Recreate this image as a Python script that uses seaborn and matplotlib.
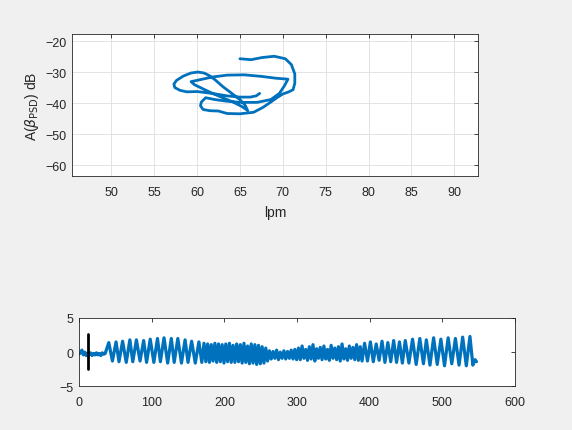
import numpy as np
import pandas as pd
import matplotlib
matplotlib.use("Agg")
import matplotlib.pyplot as plt
import seaborn as sns

# ---------------- data ----------------
# top panel: trajectory (lpm, dB)
lpm = [67.3, 66.9, 66.2, 65.0, 63.5, 62.2, 61.2, 60.0, 58.8, 58.0,
       57.4, 57.3, 57.6, 58.4, 59.3, 60.1, 60.8, 61.4,
       62.1, 63.0, 64.0, 65.0, 65.6, 65.9,
       65.2, 64.2, 63.0, 61.8, 60.6, 59.7, 59.3,
       60.3, 61.8, 63.5, 65.5, 67.5, 69.2, 70.6,
       70.2, 69.6, 68.6, 67.0, 65.0, 63.4, 62.1, 61.0,
       60.5, 60.4, 60.7, 61.5, 62.5,
       63.5, 65.0, 66.6, 67.7, 68.6, 69.3, 70.0, 70.7, 71.2,
       71.4, 71.4, 71.0, 70.3, 69.0, 67.6, 66.3, 65.0]
db = [-36.8, -37.6, -38.0, -38.0, -37.6, -37.0, -36.6, -36.2, -36.3, -35.8,
      -34.9, -33.8, -32.6, -31.2, -30.2, -29.9, -30.2, -31.0,
      -32.4, -34.6, -36.7, -38.8, -40.6, -42.3,
      -41.0, -39.6, -38.2, -36.8, -35.2, -34.0, -33.0,
      -32.4, -31.5, -30.9, -30.8, -31.3, -31.9, -32.2,
      -34.3, -36.8, -38.8, -39.7, -39.7, -39.3, -38.8, -38.2,
      -39.6, -40.8, -42.0, -42.4, -42.5,
      -43.3, -43.4, -42.9, -41.3, -39.6, -38.2, -37.0, -36.3, -35.6,
      -33.5, -30.5, -27.5, -25.6, -24.8, -25.2, -25.9, -25.6]

# bottom panel: signal (sample index, value) read as extrema
t0 = [0, 2, 4, 6, 8, 10, 12, 14, 16, 18, 20, 22, 24, 26, 28, 30, 32, 34, 36]
v0 = [-0.3, -0.1, 0.3, -0.4, 0.0, -0.5, -0.2, -0.4, -0.1, -0.5, -0.2, -0.4, -0.1, -0.4, -0.2, -0.5, -0.1, -0.3, -0.2]
tA = [41, 46, 51, 55, 60, 65, 70, 74, 79, 84, 89, 93, 98, 103, 108, 112, 117, 122, 127, 131, 136, 141, 146, 150, 155, 160, 165, 169]
vA = [1.4, -1.3, 1.5, -1.4, 1.6, -1.5, 1.8, -1.4, 1.8, -1.3, 1.7, -1.5, 1.9, -1.5, 2.0, -1.4, 2.1, -1.6, 2.0, -1.5, 2.0, -1.6, 1.8, -1.5, 1.6, -1.6, 1.5, -1.5]
tB = [172, 174.5, 177, 179.5, 182, 184.5, 187, 189.5, 192, 194.5, 197, 199.5, 202, 204.5, 207, 209.5, 212, 214.5,
      217, 219.5, 222, 224.5, 227, 229.5, 232, 234.5, 237, 239.5, 242, 244.5, 247, 249.5, 252, 254.5, 257, 259.5]
vB = [1.3, -1.4, 1.2, -1.5, 1.1, -1.3, 1.3, -1.5, 1.2, -1.4, 1.1, -1.6, 1.2, -1.4, 1.3, -1.5, 1.0, -1.5,
      1.2, -1.4, 1.1, -1.6, 1.3, -1.5, 0.9, -1.7, 1.2, -1.6, 1.1, -1.8, 1.0, -1.7, 0.8, -1.6, 0.6, -1.3]
tC = [262, 264.5, 267, 269.5, 272, 274.5, 277, 279.5, 282, 284.5, 287, 289.5, 292, 294.5, 297, 299.5]
vC = [0.2, -1.0, 0.1, -0.9, 0.3, -1.1, 0.0, -0.9, 0.2, -1.0, 0.1, -0.9, 0.3, -1.0, 0.4, -1.1]
tD = [302, 304.5, 307, 309.5, 312, 314.5, 317, 319.5, 322, 324.5, 327, 329.5, 332, 334.5, 337, 339.5, 342, 344.5,
      347, 349.5, 352, 354.5, 357, 359.5, 362, 364.5, 367, 369.5, 372, 374.5, 377, 379.5, 382, 384.5, 387, 389.5]
vD = [0.6, -1.1, 0.9, -0.9, 0.4, -1.2, 0.8, -1.0, 1.1, -1.3, 0.5, -0.9, 0.7, -1.1, 0.9, -1.0, 0.4, -1.2,
      1.0, -0.9, 0.6, -1.1, 0.8, -1.3, 1.2, -1.0, 0.5, -1.2, 0.9, -0.9, 0.7, -1.1, 1.1, -1.2, 0.8, -1.3]
tE = [393, 397, 401, 405, 409, 413, 417, 421, 425, 429, 433, 437, 441, 445]
vE = [1.3, -1.3, 1.5, -1.4, 1.2, -1.2, 1.6, -1.5, 1.4, -1.4, 1.7, -1.5, 1.5, -1.6]
tF = [449, 454, 459, 464, 469, 474, 478, 483, 488, 493, 498, 503, 508, 513, 518, 523, 528, 533, 538, 542, 545, 547]
vF = [1.7, -1.6, 1.9, -1.8, 2.0, -1.7, 1.8, -1.9, 2.1, -1.8, 1.9, -2.0, 2.1, -1.7, 2.0, -1.9, 2.2, -2.0, 2.3, -1.9, -1.1, -1.4]

marker_t = [12, 12]
marker_v = [-2.4, 2.6]

top_xticks = [50, 55, 60, 65, 70, 75, 80, 85, 90]
top_yticks = [-60, -50, -40, -30, -20]
bot_xticks = [0, 100, 200, 300, 400, 500, 600]
bot_yticks = [-5, 0, 5]

# ---------------- style ----------------
sns.set_style("white")
plt.rcParams['font.family'] = ['Liberation Sans', 'DejaVu Sans']
plt.rcParams['mathtext.fontset'] = 'dejavusans'

BLUE = '#0072BD'
DARK = '#262626'
BG = '#f0f0f0'

fig = plt.figure(figsize=(5.72, 4.31), dpi=100, facecolor=BG)

ax1 = fig.add_axes([72.3 / 572, 1 - 177.3 / 431, (478.3 - 72.3) / 572, (177.3 - 35) / 431])
ax2 = fig.add_axes([79 / 572, 1 - 387.3 / 431, (515 - 79) / 572, (387.3 - 319) / 431])

top_df = pd.DataFrame({'lpm': lpm, 'db': db})
sns.lineplot(data=top_df, x='lpm', y='db', sort=False, estimator=None,
             color=BLUE, linewidth=2.0, ax=ax1,
             solid_joinstyle='round', solid_capstyle='round')
ax1.set_xlim(45.45, 92.8)
ax1.set_ylim(-63.6, -17.6)
ax1.set_xticks(top_xticks)
ax1.set_yticks(top_yticks)
ax1.grid(True, color='#dedede', linewidth=0.6)
ax1.set_axisbelow(True)
ax1.set_xlabel('lpm', fontsize=10, color=DARK, labelpad=5)
ax1.set_ylabel(r'A($\beta_{\mathrm{PSD}}$) dB', fontsize=10, color=DARK, labelpad=3)

t_all = t0 + tA + tB + tC + tD + tE + tF
v_all = v0 + vA + vB + vC + vD + vE + vF
bot_df = pd.DataFrame({'t': t_all, 'v': v_all})
sns.lineplot(data=bot_df, x='t', y='v', sort=False, estimator=None,
             color=BLUE, linewidth=2.3, ax=ax2, solid_joinstyle='round')
sns.lineplot(x=marker_t, y=marker_v, sort=False, estimator=None,
             color='black', linewidth=2.0, ax=ax2)
ax2.set_xlim(0, 600)
ax2.set_ylim(-5, 5)
ax2.set_xticks(bot_xticks)
ax2.set_yticks(bot_yticks)
ax2.set_xlabel('')
ax2.set_ylabel('')

for ax in (ax1, ax2):
    ax.set_facecolor('white')
    for s in ax.spines.values():
        s.set_color(DARK)
        s.set_linewidth(0.6)
    ax.tick_params(direction='in', length=3, width=0.6, colors=DARK,
                   labelsize=9, top=True, right=True, pad=4)
    ax.tick_params(axis='x', pad=7)

fig.savefig('out.png', dpi=100, facecolor=BG)
